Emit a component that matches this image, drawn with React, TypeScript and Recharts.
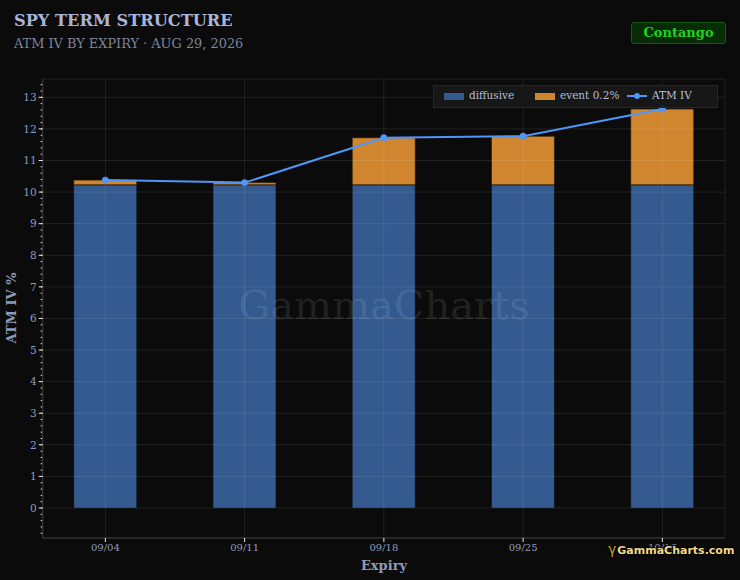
import React from "react";
import {
  ComposedChart,
  Bar,
  Line,
  XAxis,
  YAxis,
  CartesianGrid,
} from "recharts";

const expiries = ["09/04", "09/11", "09/18", "09/25", "10/16"];
const diffusive = [10.23, 10.23, 10.23, 10.23, 10.23];
const eventPart = [0.15, 0.07, 1.49, 1.54, 2.4];
const atmIv = [10.38, 10.3, 11.72, 11.77, 12.63];
const yTicks = [0, 1, 2, 3, 4, 5, 6, 7, 8, 9, 10, 11, 12, 13];
const xTicks = [0, 1, 2, 3, 4];

const minorTicks: number[] = [];
for (let k = -4; k <= 67; k++) minorTicks.push(Math.round(k * 20) / 100);

const data = expiries.map((e, i) => ({
  idx: i,
  label: e,
  diffusive: diffusive[i],
  event: eventPart[i],
  iv: atmIv[i],
}));

const BG = "#0b0b0b";
const FONT = "'DejaVu Serif', serif";
const TICK = "#8f9bbb";
const BLUE = "#345a8f";
const ORANGE = "#d0852f";
const LINE = "#4f95fa";
const X_DOMAIN: [number, number] = [-0.45, 4.45];
const Y_DOMAIN: [number, number] = [-0.95, 13.58];
const MARGIN = { top: 79, right: 15, bottom: 0, left: 0 };

export default function App() {
  const xAxis = (visible: boolean) => (
    <XAxis
      dataKey="idx"
      type="number"
      domain={X_DOMAIN}
      ticks={xTicks}
      allowDataOverflow
      tickFormatter={(v: number) => (visible ? expiries[v] ?? "" : "")}
      stroke="#3a3a3a"
      axisLine={visible}
      tickLine={visible ? { stroke: "#e8e8e8" } : false}
      tickSize={4}
      tick={{ fill: TICK, fontSize: 10, fontFamily: FONT }}
      height={42}
      interval={0}
    />
  );
  const yAxis = (visible: boolean) => (
    <YAxis
      type="number"
      domain={Y_DOMAIN}
      ticks={yTicks}
      allowDataOverflow
      interval={0}
      width={42.7}
      stroke="#3a3a3a"
      axisLine={visible}
      tickLine={visible ? { stroke: "#e8e8e8" } : false}
      tickFormatter={(v: number) => (visible ? String(v) : "")}
      tickSize={4}
      tick={{ fill: TICK, fontSize: 10.5, fontFamily: FONT }}
    />
  );
  return (
    <div
      style={{
        position: "fixed",
        left: 0,
        top: 0,
        width: 740,
        height: 580,
        background: BG,
        fontFamily: FONT,
        overflow: "hidden",
      }}
    >
      {/* Bars layer */}
      <ComposedChart
        width={740}
        height={580}
        data={data}
        margin={MARGIN}
        style={{ position: "absolute", left: 0, top: 0 }}
      >
        {xAxis(false)}
        {yAxis(false)}
        <Bar
          dataKey="diffusive"
          stackId="s"
          fill={BLUE}
          stroke="rgba(15,15,15,0.6)"
          strokeWidth={1}
          barSize={63}
          isAnimationActive={false}
        />
        <Bar
          dataKey="event"
          stackId="s"
          fill={ORANGE}
          stroke="rgba(40,25,10,0.7)"
          strokeWidth={1}
          barSize={63}
          isAnimationActive={false}
        />
      </ComposedChart>

      {/* Watermark */}
      <div
        style={{
          position: "absolute",
          left: 0,
          width: 768,
          top: 280,
          textAlign: "center",
          fontSize: 40,
          color: "rgba(255,255,255,0.1)",
          fontFamily: FONT,
          pointerEvents: "none",
          lineHeight: "50px",
        }}
      >
        GammaCharts
      </div>

      {/* Minor y ticks layer */}
      <ComposedChart
        width={740}
        height={580}
        data={data}
        margin={MARGIN}
        style={{ position: "absolute", left: 0, top: 0 }}
      >
        <XAxis
          dataKey="idx"
          type="number"
          domain={X_DOMAIN}
          height={42}
          axisLine={false}
          tickLine={false}
          tick={false}
        />
        <YAxis
          type="number"
          domain={Y_DOMAIN}
          ticks={minorTicks}
          allowDataOverflow
          interval={0}
          width={42.7}
          axisLine={false}
          tickLine={{ stroke: "#e8e8e8", strokeWidth: 1 }}
          tickSize={2}
          tickFormatter={() => ""}
          tick={{ fontSize: 1, fill: "transparent" }}
        />
        <Line
          dataKey="iv"
          stroke="transparent"
          dot={false}
          activeDot={false}
          isAnimationActive={false}
        />
      </ComposedChart>

      {/* Grid, axes and line layer */}
      <ComposedChart
        width={740}
        height={580}
        data={data}
        margin={MARGIN}
        style={{ position: "absolute", left: 0, top: 0 }}
      >
        <CartesianGrid stroke="rgba(255,255,255,0.09)" strokeWidth={1} />
        {xAxis(true)}
        {yAxis(true)}
        <Line
          dataKey="iv"
          stroke={LINE}
          strokeWidth={2}
          dot={{ r: 3.2, fill: LINE, stroke: LINE, strokeWidth: 0.5 }}
          activeDot={false}
          isAnimationActive={false}
        />
      </ComposedChart>

      {/* Titles */}
      <div
        style={{
          position: "absolute",
          left: 14,
          top: 11,
          fontSize: 16.2,
          fontWeight: "bold",
          color: "#a9b5d8",
          whiteSpace: "nowrap",
        }}
      >
        SPY TERM STRUCTURE
      </div>
      <div
        style={{
          position: "absolute",
          left: 14,
          top: 36,
          fontSize: 12.9,
          color: "#7e8499",
          whiteSpace: "nowrap",
        }}
      >
        ATM IV BY EXPIRY · AUG 29, 2026
      </div>

      {/* Contango badge */}
      <div
        style={{
          position: "absolute",
          left: 631,
          top: 22,
          width: 93,
          height: 20,
          background: "#072d07",
          border: "1px solid #145c14",
          borderRadius: 3,
          color: "#22d022",
          fontWeight: "bold",
          fontSize: 13,
          lineHeight: "20px",
          textAlign: "center",
        }}
      >
        Contango
      </div>

      {/* Legend */}
      <div
        style={{
          position: "absolute",
          left: 433,
          top: 85,
          width: 283,
          height: 21,
          background: "rgba(24,24,24,0.9)",
          border: "1px solid #262626",
          fontSize: 10.5,
          color: "#b5bdd6",
        }}
      >
        <div
          style={{
            position: "absolute",
            left: 10,
            top: 7,
            width: 20,
            height: 7,
            background: BLUE,
          }}
        />
        <div style={{ position: "absolute", left: 35, top: 3, whiteSpace: "nowrap" }}>
          diffusive
        </div>
        <div
          style={{
            position: "absolute",
            left: 101,
            top: 7,
            width: 20,
            height: 7,
            background: ORANGE,
          }}
        />
        <div style={{ position: "absolute", left: 126, top: 3, whiteSpace: "nowrap" }}>
          event 0.2%
        </div>
        <div
          style={{
            position: "absolute",
            left: 193,
            top: 9,
            width: 20,
            height: 2,
            background: LINE,
          }}
        />
        <div
          style={{
            position: "absolute",
            left: 200,
            top: 7,
            width: 6,
            height: 6,
            borderRadius: 3,
            background: LINE,
          }}
        />
        <div style={{ position: "absolute", left: 218, top: 3, whiteSpace: "nowrap" }}>
          ATM IV
        </div>
      </div>

      {/* Axis titles */}
      <div
        style={{
          position: "absolute",
          left: 0,
          width: 768,
          top: 558,
          textAlign: "center",
          fontSize: 13,
          fontWeight: "bold",
          color: TICK,
        }}
      >
        Expiry
      </div>
      <div
        style={{
          position: "absolute",
          left: 11,
          top: 308,
          transform: "translate(-50%, -50%) rotate(-90deg)",
          fontSize: 13,
          fontWeight: "bold",
          color: TICK,
          whiteSpace: "nowrap",
        }}
      >
        ATM IV %
      </div>

      {/* Brand */}
      <div
        style={{
          position: "absolute",
          left: 608,
          top: 541,
          whiteSpace: "nowrap",
          fontFamily: "'DejaVu Sans', sans-serif",
          fontWeight: "bold",
          fontSize: 11,
          color: "#f2d88c",
          textShadow: "0 0 2px #000, 1px 1px 1px #000, -1px -1px 1px #000",
        }}
      >
        <span style={{ color: "#c9a227", fontWeight: "normal", fontSize: 14, marginRight: 1 }}>γ</span>
        GammaCharts.com
      </div>
    </div>
  );
}
